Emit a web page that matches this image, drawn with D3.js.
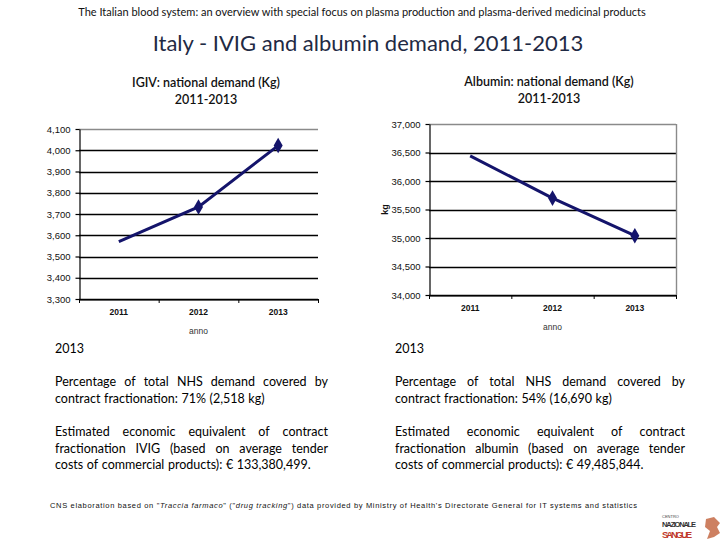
<!DOCTYPE html>
<html>
<head>
<meta charset="utf-8">
<script src="https://cdn.jsdelivr.net/npm/d3@7"></script>
<style>
  body { margin: 0; background: #fff; }
  svg { display: block; }
</style>
</head>
<body>
<div id="chart"></div>
<script>
// -- DATA --
var years = ['2011', '2012', '2013']
var ivigKg = [3570, 3733, 4022]
var albuminKg = [36440, 35700, 35040]
var ivigTicks = [3300, 3400, 3500, 3600, 3700, 3800, 3900, 4000, 4100]
var albuminTicks = [34000, 34500, 35000, 35500, 36000, 36500, 37000]

var width = 720
var height = 540
var navy = '#14146b'
var textFont = 'Lato, "Open Sans", sans-serif'
var axisFont = '"Liberation Sans", Arial, sans-serif'

var svg = d3.select('#chart').append('svg')
  .attr('width', width)
  .attr('height', height)

// -- TITLES --
svg.append('text')
  .attr('x', 362).attr('y', 16)
  .style('font-family', textFont)
  .style('font-size', '11px')
  .style('fill', '#111')
  .style('text-anchor', 'middle')
  .text('The Italian blood system: an overview with special focus on plasma production and plasma-derived medicinal products')

svg.append('text')
  .attr('x', 368).attr('y', 51)
  .style('font-family', textFont)
  .style('font-size', '22px')
  .style('fill', '#1f2a44')
  .style('text-anchor', 'middle')
  .text('Italy - IVIG and albumin demand, 2011-2013')

function subtitle(x, y, lines) {
  lines.forEach(function(t, i) {
    svg.append('text')
      .attr('x', x).attr('y', y + i * 17)
      .style('font-family', textFont)
      .style('font-size', '12.5px')
      .style('font-weight', '600')
      .style('fill', '#111')
      .style('text-anchor', 'middle')
      .text(t)
  })
}
subtitle(206, 87, ['IGIV: national demand (Kg)', '2011-2013'])
subtitle(549, 86, ['Albumin: national demand (Kg)', '2011-2013'])

// -- CHARTS --
function plotLine(opt) {
  var g = svg.append('g')

  var xMap = d3.scaleBand()
    .domain(years)
    .range([opt.left, opt.right])

  var yMap = d3.scaleLinear()
    .domain(d3.extent(opt.ticks))
    .range([opt.bottom, opt.top])

  // gridlines
  g.selectAll('line.grid')
    .data(opt.ticks)
    .enter().append('line')
    .attr('class', 'grid')
    .attr('x1', opt.left)
    .attr('x2', opt.right)
    .attr('y1', d => Math.round(yMap(d)) + 0.5)
    .attr('y2', d => Math.round(yMap(d)) + 0.5)
    .style('stroke', (d, i) => i == opt.ticks.length - 1 ? '#8a8a8a' : '#000')
    .style('stroke-width', 1.4)

  if (opt.border) {
    g.append('line')
      .attr('x1', opt.right + 0.5).attr('x2', opt.right + 0.5)
      .attr('y1', yMap.range()[1]).attr('y2', yMap.range()[0])
      .style('stroke', '#8a8a8a')
      .style('stroke-width', 1.4)
  }

  var yAxis = d3.axisLeft(yMap)
    .tickValues(opt.ticks)
    .tickSize(4)
    .tickSizeOuter(0)
    .tickFormat(d3.format(','))

  var gY = g.append('g')
    .attr('transform', 'translate(' + (opt.left + 0.5) + ',0)')
    .call(yAxis)
  gY.selectAll('path, line').style('stroke', '#000').style('stroke-width', 1.2)
  gY.selectAll('text')
    .style('font-family', axisFont)
    .style('font-size', '9.5px')
    .style('fill', '#111')
    .attr('dx', '-2px')

  var xAxis = d3.axisBottom(xMap)
    .tickSize(0)
    .tickSizeOuter(0)

  var gX = g.append('g')
    .attr('transform', 'translate(0,' + (Math.round(yMap.range()[0]) + 0.5) + ')')
    .call(xAxis)
  gX.select('.domain').style('stroke', '#000').style('stroke-width', 1.2)
  gX.selectAll('text')
    .attr('dy', '12px')
    .style('font-family', axisFont)
    .style('font-size', '8.5px')
    .style('font-weight', 'bold')
    .style('fill', '#111')

  // tick marks between categories
  var bounds = years.map(y => xMap(y)).concat([opt.right])
  g.selectAll('line.xtick')
    .data(bounds)
    .enter().append('line')
    .attr('x1', d => d + 0.5).attr('x2', d => d + 0.5)
    .attr('y1', yMap.range()[0]).attr('y2', yMap.range()[0] + 4)
    .style('stroke', '#000')

  g.append('text')
    .attr('x', (opt.left + opt.right) / 2)
    .attr('y', yMap.range()[0] + 35)
    .style('font-family', axisFont)
    .style('font-size', '8.5px')
    .style('fill', '#333')
    .style('text-anchor', 'middle')
    .text('anno')

  if (opt.yLabel) {
    g.append('text')
      .attr('transform', 'translate(' + (opt.left - 41) + ',' + ((opt.top + opt.bottom) / 2) + ') rotate(-90)')
      .style('font-family', axisFont)
      .style('font-size', '9px')
      .style('font-weight', 'bold')
      .style('fill', '#111')
      .style('text-anchor', 'middle')
      .text(opt.yLabel)
  }

  var line = d3.line()
    .x((d, i) => xMap(years[i]) + xMap.bandwidth() / 2)
    .y(d => yMap(d))

  g.append('path')
    .datum(opt.values)
    .attr('d', line)
    .style('fill', 'none')
    .style('stroke', navy)
    .style('stroke-width', 3)

  g.selectAll('path.marker')
    .data(opt.values)
    .enter().append('path')
    .attr('class', 'marker')
    .attr('d', (d, i) => d3.symbol().type(d3.symbolDiamond).size(i == 0 ? 0 : 70)())
    .attr('transform', (d, i) => 'translate(' + (xMap(years[i]) + xMap.bandwidth() / 2) + ',' + yMap(d) + ')')
    .style('fill', navy)
}

plotLine({ values: ivigKg, ticks: ivigTicks, left: 79, right: 318, top: 129, bottom: 299 })
plotLine({ values: albuminKg, ticks: albuminTicks, left: 429, right: 676, top: 124, bottom: 295, border: true, yLabel: 'kg' })

// -- TEXT BLOCKS --
function justified(x, y, w, lines) {
  lines.forEach(function(l, i) {
    var words = l.text.split(' ')
    var g = svg.append('g')
    var nodes = words.map(function(wd) {
      return g.append('text')
        .attr('y', y + i * 16.5)
        .style('font-family', textFont)
        .style('font-size', '12.5px')
        .style('fill', '#000')
        .text(wd)
    })
    var widths = nodes.map(n => n.node().getComputedTextLength())
    var total = d3.sum(widths)
    var gap = l.last || words.length < 2 ? 3.6 : (w - total) / (words.length - 1)
    var cx = x
    nodes.forEach(function(n, j) {
      n.attr('x', cx)
      cx += widths[j] + gap
    })
  })
}

function column(x, w, p1, p2) {
  svg.append('text')
    .attr('x', x).attr('y', 353)
    .style('font-family', textFont)
    .style('font-size', '12.5px')
    .style('fill', '#000')
    .text('2013')
  justified(x, 386, w, p1)
  justified(x, 436, w, p2)
}

column(55, 273, [
  { text: 'Percentage of total NHS demand covered by' },
  { text: 'contract fractionation: 71% (2,518 kg)', last: true }
], [
  { text: 'Estimated economic equivalent of contract' },
  { text: 'fractionation IVIG (based on average tender' },
  { text: 'costs of commercial products): € 133,380,499.', last: true }
])

column(395, 290, [
  { text: 'Percentage of total NHS demand covered by' },
  { text: 'contract fractionation: 54% (16,690 kg)', last: true }
], [
  { text: 'Estimated economic equivalent of contract' },
  { text: 'fractionation albumin (based on average tender' },
  { text: 'costs of commercial products): € 49,485,844.', last: true }
])

// -- FOOTER --
var foot = svg.append('text')
  .attr('x', 50).attr('y', 508)
  .attr('textLength', 587)
  .attr('lengthAdjust', 'spacing')
  .style('font-family', axisFont)
  .style('font-size', '7.5px')
  .style('fill', '#111')
foot.append('tspan').text('CNS elaboration based on "')
foot.append('tspan').style('font-style', 'italic').text('Traccia farmaco')
foot.append('tspan').text('" ("')
foot.append('tspan').style('font-style', 'italic').text('drug tracking')
foot.append('tspan').text('") data provided by Ministry of Health\'s Directorate General for IT systems and statistics')

// logo
var logo = svg.append('g').attr('transform', 'translate(662,515)')
logo.append('text').attr('y', 3).style('font-family', axisFont).style('font-size', '4px').style('fill', '#444').text('CENTRO')
logo.append('text').attr('y', 11.5).attr('textLength', 34).style('font-family', axisFont).style('font-size', '7.5px').style('font-weight', 'bold').style('fill', '#333').text('NAZIONALE')
logo.append('text').attr('y', 22.5).attr('textLength', 30).style('font-family', axisFont).style('font-size', '9.5px').style('font-weight', 'bold').style('fill', '#c0392b').text('SANGUE')
logo.append('path')
  .attr('d', 'M44,4 L52,2 L58,8 L55,12 L58,18 L52,22 L45,24 L48,16 L43,12 Z')
  .style('fill', '#c0603a')
  .style('opacity', 0.8)
</script>
</body>
</html>
